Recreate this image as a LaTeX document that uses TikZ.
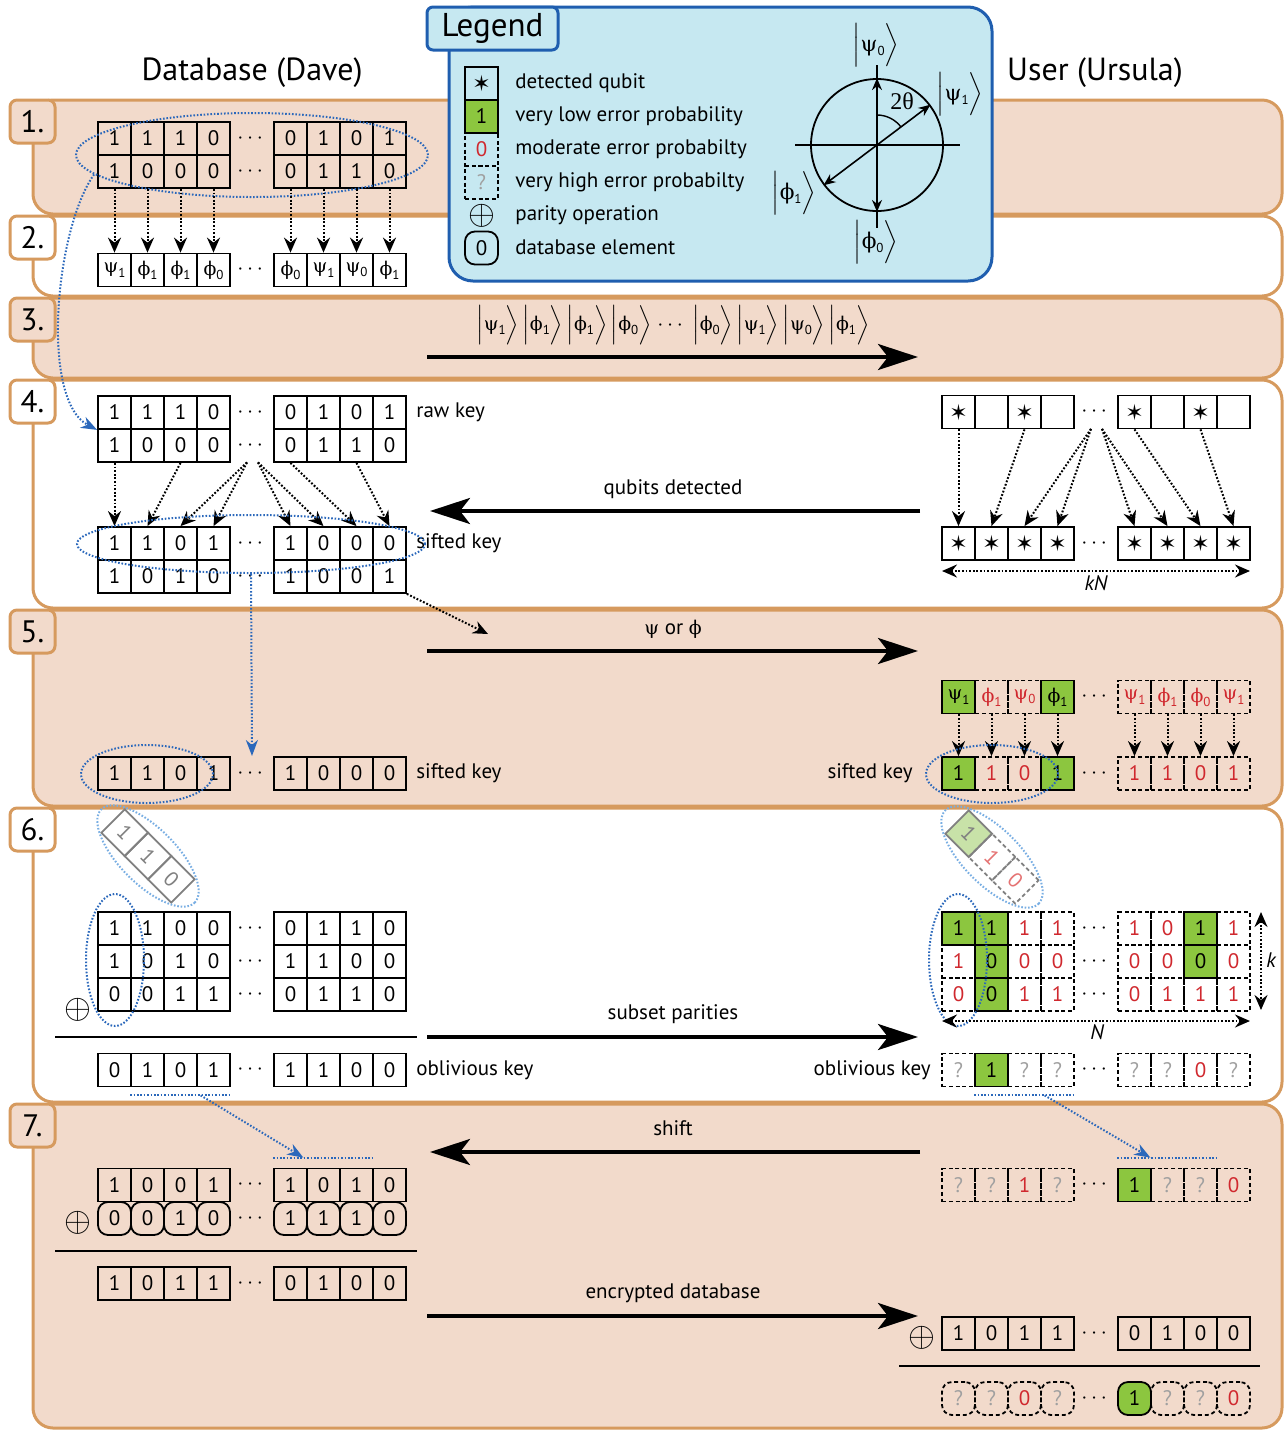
\documentclass[tikz,border=0pt]{standalone}
\usepackage{fontspec}
\usepackage{amsmath}
\setmainfont{PT Sans}
\newfontfamily\grk{DejaVu Serif}[Scale=0.9]
\newfontfamily\tms{Liberation Serif}
\newfontfamily\djs{DejaVu Sans}
\usetikzlibrary{arrows.meta,shapes.geometric,calc}

\definecolor{orng}{HTML}{D69A5E}
\definecolor{peach}{HTML}{F2DACB}
\definecolor{lgblue}{HTML}{C6E8F1}
\definecolor{lgborder}{HTML}{1F5EAF}
\definecolor{grn}{HTML}{8CC63F}
\definecolor{lgrn}{HTML}{C8E2A8}
\definecolor{rd}{HTML}{D0282E}
\definecolor{lrd}{HTML}{E57373}
\definecolor{qgray}{HTML}{A0A0A0}
\definecolor{stripgray}{HTML}{808080}
\definecolor{dblue}{HTML}{2B68BB}
\definecolor{lblue}{HTML}{78AEE3}

\newcommand\cellfont{\fontsize{10.5}{12}\selectfont}
\newcommand\gsub[2]{{\grk #1}\raisebox{-0.4ex}{\fontsize{6.5}{7}\selectfont #2}}
\newcommand\kt[2]{$\Bigl|$\gsub{#1}{#2}$\Bigr\rangle$}
\newcommand\starq{{\djs\fontsize{11}{11}\selectfont ✶}}
\newcommand\cellrow[4]{%
  \foreach \cst/\ctx [count=\cid] in {#4} {%
    \pgfmathsetmacro\xx{#3+16.5+33*(\cid-1)+44*(\cid>4)}%
    \node[\cst] (#1-\cid) at (\xx,#2) {\ctx};
  }%
  \node[dotsn] (#1-d) at (#3+154,#2) {$\cdots$};
}

\begin{document}
\begin{tikzpicture}[x=0.5pt,y=-0.5pt,
  panelst/.style={draw=orng, line width=1.5pt, rounded corners=10pt},
  stepbox/.style={draw=orng, line width=1.5pt, rounded corners=3.5pt, minimum width=22.5pt, minimum height=21.5pt, inner sep=0pt, font=\fontsize{15.5}{17}\selectfont},
  cellbase/.style={minimum width=16.5pt, minimum height=16.5pt, inner sep=0pt, line width=0.9pt, font=\cellfont, anchor=center},
  dashpat/.style={dash pattern=on 2pt off 1.4pt},
  cS/.style={cellbase, draw},
  cG/.style={cellbase, draw, fill=grn},
  cR/.style={cellbase, draw, dashpat, text=rd},
  cQ/.style={cellbase, draw, dashpat, text=qgray},
  eS/.style={cS, rounded corners=5pt},
  eG/.style={cG, rounded corners=5pt},
  eR/.style={cR, rounded corners=5pt},
  eQ/.style={cQ, rounded corners=5pt},
  dotsn/.style={minimum height=16.5pt, inner sep=0pt, font=\cellfont},
  lbl/.style={font=\fontsize{10.5}{12}\selectfont, inner sep=1pt},
  hdr/.style={font=\fontsize{16}{18}\selectfont},
  dotarrow/.style={line width=1pt, dash pattern=on 0.9pt off 0.9pt, -{Stealth[length=7.5pt,width=6.5pt,inset=2.5pt]}},
  dimarrow/.style={line width=1pt, dash pattern=on 0.9pt off 0.9pt, {Stealth[length=7.5pt,width=6.5pt,inset=2.5pt]}-{Stealth[length=7.5pt,width=6.5pt,inset=2.5pt]}},
  bigarrow/.style={line width=2pt, -{Stealth[length=20pt,width=13pt,inset=5pt]}},
  bluedots/.style={draw=dblue, line width=1pt, dash pattern=on 0.8pt off 0.9pt},
  bluearrow/.style={bluedots, -{Stealth[length=8pt,width=6pt,inset=2.5pt,fill=dblue]}},
  blueell/.style={ellipse, draw=dblue, line width=1pt, dash pattern=on 0.8pt off 0.9pt, inner sep=0pt},
  oplusn/.style={inner sep=0pt, font=\fontsize{17}{17}\selectfont},
  resline/.style={line width=1pt},
  legarrow/.style={line width=0.8pt, -{Stealth[length=6pt,width=5pt,inset=2pt]}}
]
\useasboundingbox (0,0) rectangle (1286,1431);

% ---------- panels ----------
\foreach \pt/\pb/\pf/\pn in {100/214/peach/1, 216/296/white/2, 298/378/peach/3, 380/608/white/4, 610/806/peach/5, 808/1102/white/6, 1104/1428/peach/7} {
  \draw[panelst, fill=\pf] (33,\pt) rectangle (1282,\pb);
  \node[stepbox, fill=\pf] (step\pn) at (32.5,\pt+21.5) {\pn.};
}

% ---------- headers ----------
\node[hdr] (hdave) at (252,73) {Database (Dave)};
\node[hdr] (hursula) at (1095,73) {User (Ursula)};

% ---------- legend ----------
\node[draw=lgborder, fill=lgblue, line width=1.5pt, rounded corners=12pt, minimum width=271.5pt, minimum height=137pt, inner sep=0pt] (leg) at (720.5,144) {};
\node[draw=lgborder, fill=lgblue, line width=1.5pt, rounded corners=3pt, minimum width=65.5pt, minimum height=21.5pt, inner sep=0pt, font=\fontsize{16.5}{18}\selectfont] (legtab) at (492.5,28.5) {Legend};
\node[cS] (li1) at (481.5,83.5) {\starq};
\node[cG] (li2) at (481.5,116.5) {1};
\node[cR] (li3) at (481.5,149.5) {0};
\node[cQ] (li4) at (481.5,182.5) {?};
\node[oplusn] (li5) at (481.5,216) {$\oplus$};
\node[eS] (li6) at (481.5,248) {0};
\node[lbl, anchor=west] (lt1) at (513,83) {detected qubit};
\node[lbl, anchor=west] (lt2) at (513,116) {very low error probability};
\node[lbl, anchor=west] (lt3) at (513,149) {moderate error probabilty};
\node[lbl, anchor=west] (lt4) at (513,182) {very high error probabilty};
\node[lbl, anchor=west] (lt5) at (513,215) {parity operation};
\node[lbl, anchor=west] (lt6) at (513,247) {database element};
% circle diagram
\node[circle, draw, line width=0.9pt, minimum size=66pt, inner sep=0pt] (circ) at (877,145) {};
\coordinate (axl) at (795,145); \coordinate (axr) at (960,145);
\coordinate (axt) at (877,65); \coordinate (axb) at (877,228);
\draw[line width=0.9pt] (axl) -- (axr);
\draw[line width=0.9pt] (axt) -- (axb);
\draw[legarrow] (circ.center) -- (circ.north);
\draw[legarrow] (circ.center) -- (circ.south);
\draw[legarrow] (circ.center) -- (circ.37);
\draw[legarrow] (circ.center) -- (circ.217);
\coordinate (arcA) at (877,115); \coordinate (arcB) at (901,127);
\draw[line width=0.7pt] (arcA) .. controls (886.4,115) and (895.3,119.5) .. (arcB);
\node[font=\tms\fontsize{12}{12}\selectfont] (theta) at (902,101) {2θ};
\node[font=\fontsize{12}{14}\selectfont] (kpsi0) at (876,45) {\kt{ψ}{0}};
\node[font=\fontsize{12}{14}\selectfont] (kpsi1) at (960,94) {\kt{ψ}{1}};
\node[font=\fontsize{12}{14}\selectfont] (kphi1) at (794,193) {\kt{ϕ}{1}};
\node[font=\fontsize{12}{14}\selectfont] (kphi0) at (876,242) {\kt{ϕ}{0}};

% ---------- step 1 ----------
\cellrow{a1}{138.5}{98}{cS/1,cS/1,cS/1,cS/0,cS/0,cS/1,cS/0,cS/1}
\cellrow{b1}{171.5}{98}{cS/1,cS/0,cS/0,cS/0,cS/0,cS/1,cS/1,cS/0}
\node[blueell, minimum width=176pt, minimum height=42pt] (e1) at (252,155) {};

% ---------- step 2 ----------
\cellrow{a2}{270}{98}{cS/\gsub{ψ}{1},cS/\gsub{ϕ}{1},cS/\gsub{ϕ}{1},cS/\gsub{ϕ}{0},cS/\gsub{ϕ}{0},cS/\gsub{ψ}{1},cS/\gsub{ψ}{0},cS/\gsub{ϕ}{1}}
\foreach \i in {1,...,8} \draw[dotarrow] (b1-\i.south) -- (a2-\i.north);

% ---------- step 3 ----------
\node[font=\fontsize{10.5}{13}\selectfont] (kets) at (673,325) {\kt{ψ}{1}\,\kt{ϕ}{1}\,\kt{ϕ}{1}\,\kt{ϕ}{0}\;$\cdots$\;\kt{ϕ}{0}\,\kt{ψ}{1}\,\kt{ψ}{0}\,\kt{ϕ}{1}};
\coordinate (s3a) at (427,357); \coordinate (s3b) at (918,357);
\draw[bigarrow] (s3a) -- (s3b);

% ---------- step 4 ----------
\cellrow{r4a}{412.5}{98}{cS/1,cS/1,cS/1,cS/0,cS/0,cS/1,cS/0,cS/1}
\cellrow{r4b}{445.5}{98}{cS/1,cS/0,cS/0,cS/0,cS/0,cS/1,cS/1,cS/0}
\cellrow{s4a}{543.5}{98}{cS/1,cS/1,cS/0,cS/1,cS/1,cS/0,cS/0,cS/0}
\cellrow{s4b}{576.5}{98}{cS/1,cS/0,cS/1,cS/0,cS/1,cS/0,cS/0,cS/1}
\node[lbl, anchor=west] (rawk) at (414,412) {raw key};
\node[lbl, anchor=west] (sk4) at (414,543) {sifted key};
\draw[dotarrow] (r4b-1.south) -- (s4a-1.north);
\draw[dotarrow] (r4b-3.south) -- (s4a-2.north);
\draw[dotarrow] ([xshift=-2.5pt]r4b-d.south) -- (s4a-3.north);
\draw[dotarrow] ([xshift=-2.5pt]r4b-d.south) -- (s4a-4.north);
\draw[dotarrow] ([xshift=3pt]r4b-d.south) -- (s4a-5.north);
\draw[dotarrow] ([xshift=3pt]r4b-d.south) -- (s4a-6.north);
\draw[dotarrow] (r4b-5.south) -- (s4a-7.north);
\draw[dotarrow] (r4b-7.south) -- (s4a-8.north);
\node[blueell, minimum width=174pt, minimum height=29pt] (e4) at (251,544) {};
\draw[bluearrow] (e1.187) .. controls (55,230) and (40,400) .. (r4a-1.south west);

\cellrow{u4a}{412}{942}{cS/\starq,cS/{},cS/\starq,cS/{},cS/\starq,cS/{},cS/\starq,cS/{}}
\cellrow{u4b}{543.5}{942}{cS/\starq,cS/\starq,cS/\starq,cS/\starq,cS/\starq,cS/\starq,cS/\starq,cS/\starq}
\draw[dotarrow] (u4a-1.south) -- (u4b-1.north);
\draw[dotarrow] (u4a-3.south) -- (u4b-2.north);
\draw[dotarrow] ([xshift=-2.5pt]u4a-d.south) -- (u4b-3.north);
\draw[dotarrow] ([xshift=-2.5pt]u4a-d.south) -- (u4b-4.north);
\draw[dotarrow] ([xshift=3pt]u4a-d.south) -- (u4b-5.north);
\draw[dotarrow] ([xshift=3pt]u4a-d.south) -- (u4b-6.north);
\draw[dotarrow] (u4a-5.south) -- (u4b-7.north);
\draw[dotarrow] (u4a-7.south) -- (u4b-8.north);
\coordinate (kn1) at (942,571); \coordinate (kn2) at (1250,571);
\draw[dimarrow] (kn1) -- (kn2);
\node[lbl, font=\itshape\fontsize{10.5}{12}\selectfont] (knl) at (1096,583) {kN};
\node[lbl] (qd) at (673,489) {qubits detected};
\coordinate (s4a0) at (920,511); \coordinate (s4b0) at (430,511);
\draw[bigarrow] (s4a0) -- (s4b0);

% ---------- step 5 ----------
\coordinate (c45) at (488,634);
\draw[dotarrow] (s4b-8.south east) -- (c45);
\node[lbl] (pop) at (673,629) {{\grk ψ} or {\grk ϕ}};
\coordinate (s5a) at (427,651); \coordinate (s5b) at (918,651);
\draw[bigarrow] (s5a) -- (s5b);
\cellrow{s5}{773.5}{98}{cS/1,cS/1,cS/0,cS/1,cS/1,cS/0,cS/0,cS/0}
\node[lbl, anchor=west] (sk5) at (414,773) {sifted key};
\coordinate (c5top) at (252,756);
\draw[bluearrow] (e4.south) -- (c5top);
\node[blueell, minimum width=66pt, minimum height=29pt] (e5l) at (147,774) {};

\cellrow{t5}{697}{942}{cG/\gsub{ψ}{1},cR/\gsub{ϕ}{1},cR/\gsub{ψ}{0},cG/\gsub{ϕ}{1},cR/\gsub{ψ}{1},cR/\gsub{ϕ}{1},cR/\gsub{ϕ}{0},cR/\gsub{ψ}{1}}
\cellrow{b5}{773.5}{942}{cG/1,cR/1,cR/0,cG/1,cR/1,cR/1,cR/0,cR/1}
\foreach \i in {1,...,8} \draw[dotarrow] (t5-\i.south) -- (b5-\i.north);
\node[lbl, anchor=east] (sk5r) at (915,773) {sifted key};
\node[blueell, minimum width=66pt, minimum height=29pt] (e5r) at (992,774) {};

% ---------- step 6 ----------
\node[cellbase, draw=stripgray, text=stripgray, rotate=-45] (sl1) at (124.7,832.7) {1};
\node[cellbase, draw=stripgray, text=stripgray, rotate=-45] (sl2) at (148,856) {1};
\node[cellbase, draw=stripgray, text=stripgray, rotate=-45] (sl3) at (171.3,879.3) {0};
\node[blueell, draw=lblue, minimum width=66pt, minimum height=28pt, rotate=-45] (esl) at (148,856) {};
\node[cellbase, draw=stripgray, fill=lgrn, text=stripgray, rotate=-45] (sr1) at (968.7,833.7) {1};
\node[cellbase, draw=stripgray, dashpat, text=lrd, rotate=-45] (sr2) at (992,857) {1};
\node[cellbase, draw=stripgray, dashpat, text=lrd, rotate=-45] (sr3) at (1015.3,880.3) {0};
\node[blueell, draw=lblue, minimum width=66pt, minimum height=28pt, rotate=-45] (esr) at (992,857) {};

\cellrow{m1}{928.5}{98}{cS/1,cS/1,cS/0,cS/0,cS/0,cS/1,cS/1,cS/0}
\cellrow{m2}{961.5}{98}{cS/1,cS/0,cS/1,cS/0,cS/1,cS/1,cS/0,cS/0}
\cellrow{m3}{994.5}{98}{cS/0,cS/0,cS/1,cS/1,cS/0,cS/1,cS/1,cS/0}
\node[oplusn] (op6) at (78,1010) {$\oplus$};
\node[blueell, minimum width=29pt, minimum height=66pt] (ec6l) at (115,960) {};
\coordinate (l6a) at (55,1037); \coordinate (l6b) at (417,1037);
\draw[resline] (l6a) -- (l6b);
\cellrow{o6}{1070}{98}{cS/0,cS/1,cS/0,cS/1,cS/1,cS/1,cS/0,cS/0}
\node[lbl, anchor=west] (ok6) at (414,1070) {oblivious key};

\node[lbl] (sp) at (673,1014) {subset parities};
\coordinate (s6a) at (427,1037); \coordinate (s6b) at (918,1037);
\draw[bigarrow] (s6a) -- (s6b);

\cellrow{n1}{928.5}{942}{cG/1,cG/1,cR/1,cR/1,cR/1,cR/0,cG/1,cR/1}
\cellrow{n2}{961.5}{942}{cR/1,cG/0,cR/0,cR/0,cR/0,cR/0,cG/0,cR/0}
\cellrow{n3}{994.5}{942}{cR/0,cG/0,cR/1,cR/1,cR/0,cR/1,cR/1,cR/1}
\node[blueell, minimum width=29pt, minimum height=66pt] (ec6r) at (958,960) {};
\coordinate (kk1) at (1261,912); \coordinate (kk2) at (1261,1010);
\draw[dimarrow] (kk1) -- (kk2);
\node[lbl, font=\itshape\fontsize{10.5}{12}\selectfont, anchor=west] (kl) at (1264,960) {k};
\coordinate (nn1) at (942,1021); \coordinate (nn2) at (1250,1021);
\draw[dimarrow] (nn1) -- (nn2);
\node[lbl, font=\itshape\fontsize{10.5}{12}\selectfont] (nl) at (1097,1032) {N};
\cellrow{p6}{1070}{942}{cQ/?,cG/1,cQ/?,cQ/?,cQ/?,cQ/?,cR/0,cQ/?}
\node[lbl, anchor=east] (ok6r) at (933,1070) {oblivious key};

% ---------- step 7 ----------
\node[lbl] (shiftl) at (673,1128) {shift};
\coordinate (s7a) at (920,1152); \coordinate (s7b) at (430,1152);
\draw[bigarrow] (s7a) -- (s7b);
\cellrow{k7}{1185}{98}{cS/1,cS/0,cS/0,cS/1,cS/1,cS/0,cS/1,cS/0}
\cellrow{d7}{1218.5}{98}{eS/0,eS/0,eS/1,eS/0,eS/1,eS/1,eS/1,eS/0}
\node[oplusn] (op7) at (78,1223) {$\oplus$};
\coordinate (l7a) at (55,1251); \coordinate (l7b) at (417,1251);
\draw[resline] (l7a) -- (l7b);
\cellrow{x7}{1283.5}{98}{cS/1,cS/0,cS/1,cS/1,cS/0,cS/1,cS/0,cS/0}

\cellrow{q7}{1185}{942}{cQ/?,cQ/?,cR/1,cQ/?,cG/1,cQ/?,cQ/?,cR/0}
\node[lbl] (encl) at (673,1293) {encrypted database};
\coordinate (s7c) at (427,1316); \coordinate (s7d) at (918,1316);
\draw[bigarrow] (s7c) -- (s7d);
\node[oplusn] (op7r) at (922,1338) {$\oplus$};
\cellrow{y7}{1333.5}{942}{cS/1,cS/0,cS/1,cS/1,cS/0,cS/1,cS/0,cS/0}
\coordinate (l7c) at (899,1366); \coordinate (l7d) at (1260,1366);
\draw[resline] (l7c) -- (l7d);
\cellrow{z7}{1398.5}{942}{eQ/?,eQ/?,eR/0,eQ/?,eG/1,eQ/?,eQ/?,eR/0}

% ---------- shift markers ----------
\coordinate (ol1) at ($(o6-2.south west)+(0,8)$);
\coordinate (ol2) at ($(o6-4.south east)+(0,8)$);
\draw[bluedots] (ol1) -- (ol2);
\coordinate (tl1) at ($(k7-5.north west)+(0,-10)$);
\coordinate (tl2) at ($(k7-7.north east)+(0,-10)$);
\draw[bluedots] (tl1) -- (tl2);
\draw[bluearrow] ($(ol1)!0.7!(ol2)$) -- ($(tl1)!0.3!(tl2)$);
\coordinate (or1) at ($(p6-2.south west)+(0,8)$);
\coordinate (or2) at ($(p6-4.south east)+(0,8)$);
\draw[bluedots] (or1) -- (or2);
\coordinate (tr1) at ($(q7-5.north west)+(0,-10)$);
\coordinate (tr2) at ($(q7-7.north east)+(0,-10)$);
\draw[bluedots] (tr1) -- (tr2);
\draw[bluearrow] ($(or1)!0.7!(or2)$) -- ($(tr1)!0.33!(tr2)$);
\end{tikzpicture}
\end{document}
